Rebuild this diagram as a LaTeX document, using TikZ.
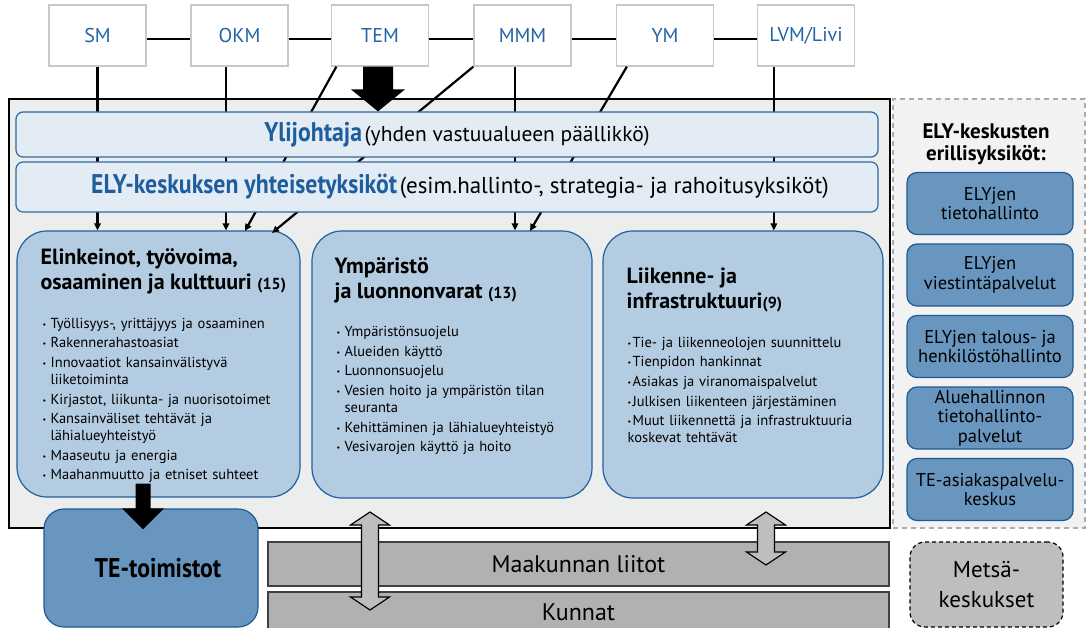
\documentclass[tikz,border=0pt]{standalone}
\usepackage{fontspec}
\setmainfont{PT Sans}
\newfontfamily\narrowfont[FakeStretch=0.88]{PT Sans}
\usetikzlibrary{arrows.meta,positioning}
\definecolor{minblue}{HTML}{2363A5}
\definecolor{minedge}{HTML}{C8C8C8}
\definecolor{framefill}{HTML}{ECEEEE}
\definecolor{sidefill}{HTML}{F2F2F2}
\definecolor{sideedge}{HTML}{ABABAB}
\definecolor{bandfill}{HTML}{E3ECF5}
\definecolor{bandedge}{HTML}{2E68A5}
\definecolor{headblue}{HTML}{1F5E9C}
\definecolor{areafill}{HTML}{B4CCE1}
\definecolor{areaedge}{HTML}{21609F}
\definecolor{darkfill}{HTML}{6896BF}
\definecolor{darkedge}{HTML}{1E5A94}
\definecolor{grayband}{HTML}{B1B1B2}
\definecolor{grayedge}{HTML}{404040}
\definecolor{metsafill}{HTML}{BEBEBE}
\newlength\itmind
\setlength\itmind{8pt}
\newcommand{\itm}[1]{\par\hangindent=\itmind\hangafter=1\noindent\makebox[\itmind][l]{\raisebox{1pt}{\fontsize{8}{8}\selectfont\textbullet}}#1}
\newcommand{\headtxt}[1]{{\color{headblue}\narrowfont\bfseries\fontsize{27}{27}\selectfont #1}}
\newcommand{\notetxt}[2][21.5]{{\fontsize{#1}{#1}\selectfont #2}}
\newcommand{\cnt}[1]{{\fontsize{16}{25}\selectfont #1}}
\newcommand{\bigdown}[5]{\fill ([xshift=-#3pt]#1) -- ([xshift=#3pt]#1) -- ([xshift=#3pt,yshift=#5pt]#2) -- ([xshift=#4pt,yshift=#5pt]#2) -- (#2) -- ([xshift=-#4pt,yshift=#5pt]#2) -- ([xshift=-#3pt,yshift=#5pt]#2) -- cycle;}
\newcommand{\twoway}[2]{\draw[hollow] (#1) -- ([shift={(19.5,13)}]#1) -- ([shift={(8.5,13)}]#1) -- ([shift={(8.5,-13)}]#2) -- ([shift={(19.5,-13)}]#2) -- (#2) -- ([shift={(-19.5,-13)}]#2) -- ([shift={(-8.5,-13)}]#2) -- ([shift={(-8.5,13)}]#1) -- ([shift={(-19.5,13)}]#1) -- cycle;}
\tikzset{
 >={Triangle[length=7pt,width=6.5pt]},
 ministry/.style={draw=minedge, fill=white, line width=1.3pt, minimum width=97pt, minimum height=61pt, inner sep=0pt, text=minblue, font=\fontsize{20}{20}\selectfont},
 tie/.style={line width=2.2pt},
 feed/.style={line width=2.2pt, ->},
 outer/.style={draw=black, fill=framefill, line width=1.5pt, minimum width=881pt, minimum height=429pt, inner sep=0pt},
 side/.style={draw=sideedge, fill=sidefill, line width=1.2pt, dash pattern=on 5pt off 4pt, minimum width=192pt, minimum height=429pt, inner sep=0pt},
 band/.style={draw=bandedge, fill=bandfill, line width=1.2pt, rounded corners=7pt, minimum width=862pt, inner sep=0pt},
 area/.style={draw=areaedge, fill=areafill, line width=1.2pt, rounded corners=30pt, minimum width=280pt, minimum height=267pt, inner sep=0pt},
 areatitle/.style={anchor=north west, inner sep=0pt, align=left, font=\bfseries\fontsize{22}{25}\selectfont},
 items/.style={anchor=north west, inner sep=0pt, text width=260pt, align=left, font=\fontsize{14.5}{17}\selectfont, execute at begin node={\setlength{\parskip}{2.6pt}}},
 unit/.style={draw=darkedge, fill=darkfill, line width=1.2pt, rounded corners=10pt, minimum width=166pt, minimum height=62pt, inner sep=0pt, align=center, font=\fontsize{18.5}{19.5}\selectfont},
 office/.style={draw=darkedge, fill=darkfill, line width=1.2pt, rounded corners=20pt, minimum width=214pt, minimum height=118pt, inner sep=0pt},
 region/.style={draw=grayedge, fill=grayband, line width=1.2pt, minimum width=621pt, inner sep=0pt, font=\fontsize{24}{24}\selectfont},
 forest/.style={draw=black, fill=metsafill, line width=1.2pt, dash pattern=on 4pt off 3pt, rounded corners=15pt, minimum width=153pt, minimum height=85pt, inner sep=0pt, align=center, font=\fontsize{23}{30}\selectfont},
 hollow/.style={draw=black, fill=metsafill, line width=1.2pt, line join=miter}
}
\begin{document}
\begin{tikzpicture}[x=1pt,y=-1pt]
\useasboundingbox (0,0) rectangle (1091,628);

\path (449.5,313.5) node[name=frame, outer] {};
\path (989,313.5) node[name=sidebox, side] {};

\path (97.5,35.5) node[name=sm, ministry] {SM};
\path (239.5,35.5) node[name=okm, ministry] {OKM};
\path (380,35.5) node[name=tem, ministry] {TEM};
\path (522.5,35.5) node[name=mmm, ministry] {MMM};
\path (665,35.5) node[name=ym, ministry] {YM};
\path (806,35.5) node[name=lvm, ministry] {LVM/Livi};

\path (158.5,364) node[name=elin, area, minimum width=283pt, minimum height=266pt] {};
\path (452,364.5) node[name=ymp, area] {};
\path (743,364.5) node[name=liik, area] {};

\path[tie] ([yshift=-3.5pt]sm.east) edge ([yshift=-3.5pt]okm.west);
\path[tie] ([yshift=-3.5pt]okm.east) edge ([yshift=-3.5pt]tem.west);
\path[tie] ([yshift=-3.5pt]tem.east) edge ([yshift=-3.5pt]mmm.west);
\path[tie] ([yshift=-3.5pt]mmm.east) edge ([yshift=-3.5pt]ym.west);
\path[tie] ([yshift=-3.5pt]ym.east) edge ([yshift=-3.5pt]lvm.west);

\coordinate (temhit) at (245,231);
\coordinate (mmmhit) at (272,233);
\coordinate (ymhit) at (530,231);
\path[feed] (sm.south) edge (sm.south |- elin.north);
\path[feed] ([xshift=-13.5pt]okm.south) edge ([xshift=-13.5pt]okm.south |- elin.north);
\path[feed] ([xshift=5.5pt]tem.south west) edge (temhit);
\path[feed] (mmm.south west) edge (mmmhit);
\path[feed] ([xshift=-7.5pt]mmm.south) edge ([xshift=-7.5pt]mmm.south |- ymp.north);
\path[feed] ([xshift=11pt]ym.south west) edge (ymhit);
\path[feed] ([xshift=17pt]lvm.south west) edge ([xshift=17pt]lvm.south west |- liik.north);

\path (447,134.5) node[name=ylij, band, minimum height=45pt] {};
\path (447,187) node[name=yht, band, minimum height=50pt] {};
\path ([xshift=10pt]ylij.center) node[name=ylijtxt] {\headtxt{Ylijohtaja} \notetxt{(yhden vastuualueen päällikkö)}};
\path ([xshift=13pt]yht.center) node[name=yhttxt] {\headtxt{ELY-keskuksen yhteisetyksiköt} \notetxt[23]{(esim.hallinto-, strategia- ja rahoitusyksiköt)}};

\coordinate (temfoot) at ([xshift=-2pt]tem.south);
\coordinate (temtip) at (temfoot |- ylij.north);
\bigdown{temfoot}{temtip}{15}{27}{22}

\path ([shift={(24,18)}]elin.north west) node[name=elinhead, areatitle] {Elinkeinot, työvoima,\\osaaminen ja kulttuuri \cnt{(15)}};
\path ([shift={(26,78)}]elin.north west) node[name=elinlist, items] {%
\itm{Työllisyys-, yrittäjyys ja osaaminen}
\itm{Rakennerahastoasiat}
\itm{Innovaatiot kansainvälistyvä\newline liiketoiminta}
\itm{Kirjastot, liikunta- ja nuorisotoimet}
\itm{Kansainväliset tehtävät ja\newline lähialueyhteistyö}
\itm{Maaseutu ja energia}
\itm{Maahanmuutto ja etniset suhteet}};

\path ([shift={(23,27)}]ymp.north west) node[name=ymphead, areatitle] {Ympäristö\\ja luonnonvarat \cnt{(13)}};
\path ([shift={(25,86.5)}]ymp.north west) node[name=ymplist, items] {%
\itm{Ympäristönsuojelu}
\itm{Alueiden käyttö}
\itm{Luonnonsuojelu}
\itm{Vesien hoito ja ympäristön tilan\newline seuranta}
\itm{Kehittäminen ja lähialueyhteistyö}
\itm{Vesivarojen käyttö ja hoito}};

\path ([shift={(24,37)}]liik.north west) node[name=liikhead, areatitle] {Liikenne- ja\\infrastruktuuri\cnt{(9)}};
\path ([shift={(25,97)}]liik.north west) node[name=liiklist, items] {\setlength\itmind{5pt}%
\itm{Tie- ja liikenneolojen suunnittelu}
\itm{Tienpidon hankinnat}
\itm{Asiakas ja viranomaispalvelut}
\itm{Julkisen liikenteen järjestäminen}
\itm{Muut liikennettä ja infrastruktuuria\newline koskevat tehtävät}};

\path (986,144) node[name=sidehead, align=center, font=\bfseries\fontsize{21}{22}\selectfont] {ELY-keskusten\\erillisyksiköt:};
\path (990,203.5) node[name=u1, unit] {ELYjen\\tietohallinto};
\path (990,275) node[name=u2, unit] {ELYjen\\viestintäpalvelut};
\path (990,346.5) node[name=u3, unit] {ELYjen talous- ja\\henkilöstöhallinto};
\path (990,418) node[name=u4, unit] {Aluehallinnon\\tietohallinto-\\palvelut};
\path (990,489.5) node[name=u5, unit] {TE-asiakaspalvelu-\\keskus};

\path (151,568) node[name=tetoim, office] {};
\path ([xshift=7pt]tetoim.center) node[name=tetxt, font=\narrowfont\bfseries\fontsize{27}{27}\selectfont] {TE-toimistot};
\path (578.5,564) node[name=maak, region, minimum height=44pt] {Maakunnan liitot};
\path (578.5,612) node[name=kunnat, region, minimum height=40pt] {Kunnat};
\path (986.5,584.5) node[name=metsa, forest] {Metsä-\\keskukset};

\coordinate (elinfoot) at ([xshift=-15.5pt,yshift=14pt]elin.south);
\coordinate (tetip) at ([xshift=-8pt,yshift=-21pt]tetoim.north);
\bigdown{elinfoot}{tetip}{7.5}{21}{21}

\coordinate (ympup) at (370,512);
\coordinate (kundown) at (370,610);
\coordinate (liikup) at (766,512);
\coordinate (maakdown) at (766,565);
\twoway{ympup}{kundown}
\twoway{liikup}{maakdown}
\end{tikzpicture}
\end{document}
